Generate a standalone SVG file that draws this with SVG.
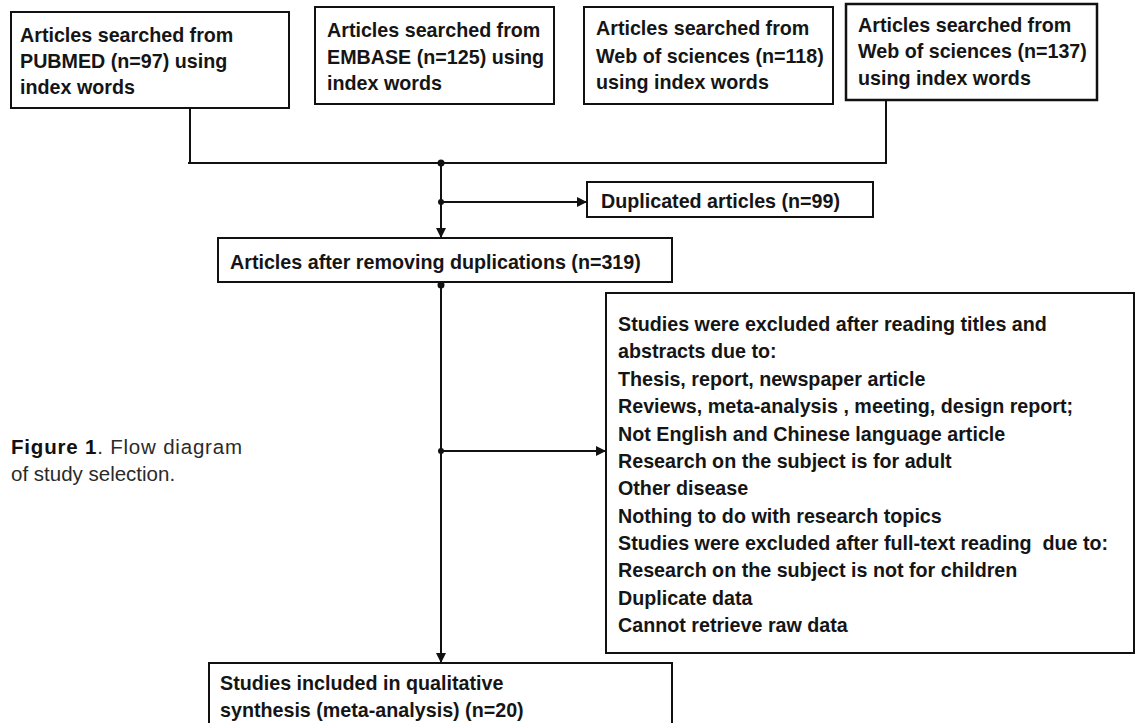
<svg xmlns="http://www.w3.org/2000/svg" width="1140" height="723" viewBox="0 0 1140 723">
<style>
.box{fill:#fff;stroke:#111;stroke-width:2}
.t{font-family:"Liberation Sans",Arial,sans-serif;font-weight:bold;font-size:19.7px;fill:#151515}
.ln{stroke:#111;stroke-width:2;fill:none}
.cap{font-family:"Liberation Sans",Arial,sans-serif;font-size:20.5px;fill:#2a2a2a}
</style>
<defs>
<marker id="ah" viewBox="0 0 10 10" refX="10" refY="5" markerWidth="5" markerHeight="5" orient="auto" markerUnits="strokeWidth">
<path d="M0,0 L10,5 L0,10 z" fill="#111"/>
</marker>
</defs>
<rect width="1140" height="723" fill="#fff"/>

<g id="connectors">
<line class="ln" x1="190" y1="108" x2="190" y2="163"/>
<line class="ln" x1="886" y1="100" x2="886" y2="163"/>
<line class="ln" x1="188" y1="163" x2="887" y2="163"/>
<line class="ln" x1="441" y1="163" x2="441" y2="238" marker-end="url(#ah)"/>
<line class="ln" x1="441" y1="202" x2="587" y2="202" marker-end="url(#ah)"/>
<line class="ln" x1="441" y1="282" x2="441" y2="663" marker-end="url(#ah)"/>
<line class="ln" x1="441" y1="451" x2="606" y2="451" marker-end="url(#ah)"/>
<circle cx="441" cy="163" r="3.5" fill="#111"/>
<circle cx="441" cy="202" r="3" fill="#111"/>
<circle cx="441" cy="285" r="3.5" fill="#111"/>
<circle cx="441" cy="451" r="3" fill="#111"/>
</g>

<g id="pubmed">
<rect class="box" x="11" y="12" width="278" height="96"/>
<text class="t" x="20" y="42">Articles searched from</text>
<text class="t" x="20" y="68">PUBMED (n=97) using</text>
<text class="t" x="20" y="94">index words</text>
</g>

<g id="embase">
<rect class="box" x="315" y="7" width="239" height="97"/>
<text class="t" x="327" y="37">Articles searched from</text>
<text class="t" x="327" y="64">EMBASE (n=125) using</text>
<text class="t" x="327" y="90">index words</text>
</g>

<g id="wos118">
<rect class="box" x="584" y="7" width="249" height="97"/>
<text class="t" x="596" y="35">Articles searched from</text>
<text class="t" x="596" y="63">Web of sciences (n=118)</text>
<text class="t" x="596" y="89">using index words</text>
</g>

<g id="wos137">
<rect class="box" x="846" y="4" width="251" height="96" style="stroke-width:2.5"/>
<text class="t" x="858" y="32">Articles searched from</text>
<text class="t" x="858" y="58">Web of sciences (n=137)</text>
<text class="t" x="858" y="85">using index words</text>
</g>

<g id="duplicated">
<rect class="box" x="587" y="182" width="286" height="35"/>
<text class="t" x="601" y="208">Duplicated articles (n=99)</text>
</g>

<g id="after-removing">
<rect class="box" x="218" y="238" width="454" height="44"/>
<text class="t" x="230" y="269">Articles after removing duplications (n=319)</text>
</g>

<g id="excluded">
<rect class="box" x="606" y="293" width="528" height="360"/>
<text class="t" x="618" y="331">Studies were excluded after reading titles and</text>
<text class="t" x="618" y="358.4">abstracts due to:</text>
<text class="t" x="618" y="385.7">Thesis, report, newspaper article</text>
<text class="t" x="618" y="413">Reviews, meta-analysis , meeting, design report;</text>
<text class="t" x="618" y="440.5">Not English and Chinese language article</text>
<text class="t" x="618" y="467.8">Research on the subject is for adult</text>
<text class="t" x="618" y="495.2">Other disease</text>
<text class="t" x="618" y="522.5">Nothing to do with research topics</text>
<text class="t" x="618" y="549.9" xml:space="preserve">Studies were excluded after full-text reading  due to:</text>
<text class="t" x="618" y="577.3">Research on the subject is not for children</text>
<text class="t" x="618" y="604.6">Duplicate data</text>
<text class="t" x="618" y="632">Cannot retrieve raw data</text>
</g>

<g id="included">
<rect class="box" x="209" y="663" width="463" height="62"/>
<text class="t" x="220" y="690">Studies included in qualitative</text>
<text class="t" x="220" y="717">synthesis (meta-analysis) (n=20)</text>
</g>

<g id="caption">
<text class="cap" x="11" y="454" textLength="231" lengthAdjust="spacing"><tspan font-weight="bold" fill="#111">Figure 1</tspan>. Flow diagram</text>
<text class="cap" x="11" y="481">of study selection.</text>
</g>
</svg>
